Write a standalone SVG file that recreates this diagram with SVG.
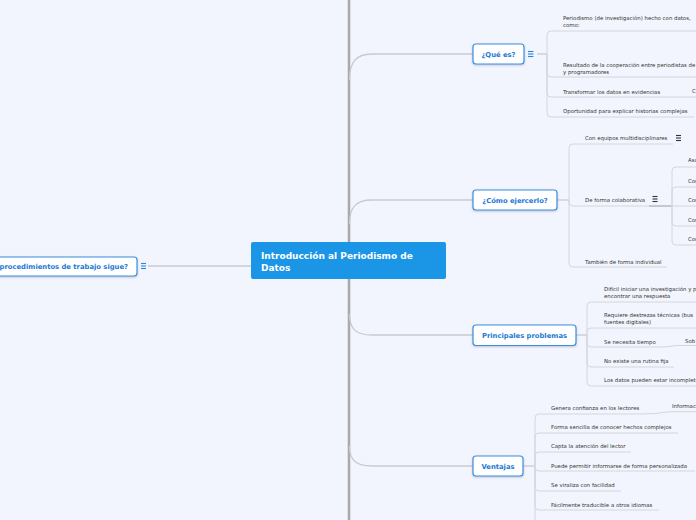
<svg xmlns="http://www.w3.org/2000/svg" width="696" height="520" viewBox="0 0 696 520">
<defs>
<style>
.bg{fill:#f2f5fd}
.bar{stroke:#a9a9a9;stroke-width:2.5;fill:none}
.main{stroke:#c9cad0;stroke-width:1.3;fill:none}
.sub{stroke:#d3d6de;stroke-width:1;fill:none}
.dk{stroke:#9a9a9a;stroke-width:1;fill:none}
.t{font-family:"DejaVu Sans",Verdana,sans-serif;font-size:5.4px;fill:#333}
.nb{fill:#ffffff;stroke:#3a8fe2;stroke-width:1.2}
.nt{font-family:"DejaVu Sans",Verdana,sans-serif;font-size:6.8px;font-weight:bold;fill:#1c79d4;text-anchor:middle}
.ct{font-family:"DejaVu Sans",Verdana,sans-serif;font-size:9px;font-weight:bold;fill:#ffffff}
.ib{stroke:#2a86e0;stroke-width:1.1}
.ik{stroke:#333;stroke-width:1.1}
</style>
<filter id="sh" x="-10%" y="-20%" width="120%" height="150%">
<feDropShadow dx="0" dy="1" stdDeviation="0.8" flood-color="#7a8aa0" flood-opacity="0.45"/>
</filter>
</defs>
<rect class="bg" x="0" y="0" width="696" height="520"/>

<g id="connectors">
<line class="bar" x1="349" y1="0" x2="349" y2="520"/>
<path class="main" d="M349.5,80 C349.5,62 356,54 372,54 L473,54"/>
<path class="main" d="M349.5,224 C349.5,207 356,200 372,200 L473,200"/>
<path class="main" d="M349.5,314 C349.5,329 356,335 372,335 L473,335"/>
<path class="main" d="M349.5,446 C349.5,460 356,466 372,466 L473,466"/>
<line class="main" x1="148" y1="266" x2="251" y2="266"/>

<!-- Que es -->
<line class="main" x1="537" y1="54" x2="547" y2="54"/>
<path class="sub" d="M547,54 V35 Q547,31 551,31 H696"/>
<path class="sub" d="M547,54 V73 Q547,77 551,77 H696"/>
<path class="sub" d="M547,54 V93 Q547,97 551,97 H696"/>
<path class="sub" d="M547,54 V113 Q547,117 551,117 H694"/>

<!-- Como -->
<line class="main" x1="557" y1="200" x2="569" y2="200"/>
<path class="sub" d="M569,200 V148 Q569,144 573,144 H673"/>
<path class="sub" d="M569,200 V202 Q569,206 573,206 H649"/>
<path class="sub" d="M569,200 V263 Q569,267 573,267 H667"/>
<line class="dk" x1="649" y1="206" x2="672" y2="206"/>
<path class="sub" d="M672,206 V171 Q672,167 676,167 H696"/>
<path class="sub" d="M672,206 V191 Q672,187 676,187 H696"/>
<path class="sub" d="M672,206 H696"/>
<path class="sub" d="M672,206 V222 Q672,226 676,226 H696"/>
<path class="sub" d="M672,206 V241 Q672,245 676,245 H696"/>

<!-- Problemas -->
<line class="main" x1="576" y1="335" x2="587" y2="335"/>
<path class="sub" d="M587,335 V306 Q587,302 591,302 H696"/>
<path class="sub" d="M587,335 V332 Q587,328 591,328 H696"/>
<path class="sub" d="M587,335 V343 Q587,347 591,347 H660 Q668,347 676,345.5 L684,345.5 H696"/>
<path class="sub" d="M587,335 V363 Q587,367 591,367 H674"/>
<path class="sub" d="M587,335 V382 Q587,386 591,386 H696"/>

<!-- Ventajas -->
<line class="main" x1="523" y1="466" x2="535" y2="466"/>
<path class="sub" d="M535,466 V418 Q535,414 539,414 H641 Q656,414 670,411.7 H696"/>
<path class="sub" d="M535,466 V437 Q535,433 539,433 H678"/>
<path class="sub" d="M535,466 V456 Q535,452 539,452 H631"/>
<path class="sub" d="M535,466 V467 Q535,471 539,471 H695"/>
<path class="sub" d="M535,466 V487 Q535,491 539,491 H621"/>
<path class="sub" d="M535,466 V506 Q535,510 539,510 H659"/>
<path class="sub" d="M535,466 V520"/>
</g>

<g id="center">
<rect x="251" y="242" width="195" height="37" rx="2" fill="#1b96e6"/>
<text class="ct" x="261" y="259">Introducción al Periodismo de</text>
<text class="ct" x="261" y="270.5">Datos</text>
</g>

<g id="left-node">
<rect class="nb" x="-20" y="257" width="157" height="19" rx="3" filter="url(#sh)"/>
<text class="nt" x="128" y="268.5" style="text-anchor:end">procedimientos de trabajo sigue?</text>
<g class="ib"><line x1="141" y1="263.5" x2="146" y2="263.5"/><line x1="141" y1="266" x2="146" y2="266"/><line x1="141" y1="268.5" x2="146" y2="268.5"/></g>
</g>

<g id="que-es">
<rect class="nb" x="473" y="44" width="51" height="20" rx="3" filter="url(#sh)"/>
<text class="nt" x="498.5" y="56.5">¿Qué es?</text>
<g class="ib"><line x1="528" y1="51.5" x2="533.5" y2="51.5"/><line x1="528" y1="54" x2="533.5" y2="54"/><line x1="528" y1="56.5" x2="533.5" y2="56.5"/></g>
</g>
<g id="que-es-items">
<text class="t" x="563" y="19.5">Periodismo (de investigación) hecho con datos,</text>
<text class="t" x="563" y="26.5">como:</text>
<text class="t" x="563" y="66.5">Resultado de la cooperación entre periodistas de</text>
<text class="t" x="563" y="73.5">y programadores</text>
<text class="t" x="563" y="93.5">Transformar los datos en evidencias</text>
<text class="t" x="692" y="93">C</text>
<text class="t" x="563" y="113">Oportunidad para explicar historias complejas</text>
</g>

<g id="como">
<rect class="nb" x="473" y="190" width="84" height="20" rx="3" filter="url(#sh)"/>
<text class="nt" x="515" y="202.5">¿Cómo ejercerlo?</text>
</g>
<g id="como-items">
<text class="t" x="585" y="139.5">Con equipos multidisciplinares</text>
<g class="ik"><line x1="676" y1="135.5" x2="681" y2="135.5"/><line x1="676" y1="138" x2="681" y2="138"/><line x1="676" y1="140.5" x2="681" y2="140.5"/></g>
<text class="t" x="585" y="202">De forma colaborativa</text>
<g class="ik"><line x1="652.5" y1="196.5" x2="657.5" y2="196.5"/><line x1="652.5" y1="199" x2="657.5" y2="199"/><line x1="652.5" y1="201.5" x2="657.5" y2="201.5"/></g>
<text class="t" x="688" y="162">Asc</text>
<text class="t" x="688" y="182.5">Con</text>
<text class="t" x="688" y="202">Con</text>
<text class="t" x="688" y="221.5">Con</text>
<text class="t" x="688" y="241">Con</text>
<text class="t" x="585" y="263.5">También de forma individual</text>
</g>

<g id="problemas">
<rect class="nb" x="473" y="325" width="103" height="20.5" rx="3" filter="url(#sh)"/>
<text class="nt" x="524.5" y="337.8">Principales problemas</text>
</g>
<g id="problemas-items">
<text class="t" x="604" y="291">Difícil iniciar una investigación y p</text>
<text class="t" x="604" y="298">encontrar una respuesta</text>
<text class="t" x="604" y="317">Requiere destrezas técnicas (bus</text>
<text class="t" x="604" y="324">fuentes digitales)</text>
<text class="t" x="604" y="343.5">Se necesita tiempo</text>
<text class="t" x="685" y="342.5">Sob</text>
<text class="t" x="604" y="362.5">No existe una rutina fija</text>
<text class="t" x="604" y="381.5">Los datos pueden estar incomplet</text>
</g>

<g id="ventajas">
<rect class="nb" x="473" y="456" width="50" height="20" rx="3" filter="url(#sh)"/>
<text class="nt" x="498" y="468.5">Ventajas</text>
</g>
<g id="ventajas-items">
<text class="t" x="551" y="409.5">Genera confianza en los lectores</text>
<text class="t" x="672" y="408">Informac</text>
<text class="t" x="551" y="428.5">Forma sencilla de conocer hechos complejos</text>
<text class="t" x="551" y="448">Capta la atención del lector</text>
<text class="t" x="551" y="468">Puede permitir informarse de forma personalizada</text>
<text class="t" x="551" y="487">Se viraliza con facilidad</text>
<text class="t" x="551" y="506.5">Fácilmente traducible a otros idiomas</text>
</g>
</svg>
